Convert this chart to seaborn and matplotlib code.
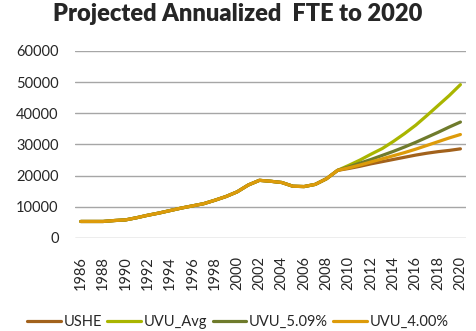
import matplotlib
matplotlib.use("Agg")
import matplotlib.pyplot as plt
import seaborn as sns
import pandas as pd

# Annual FTE, actuals through 2009 then projections per scenario
years = list(range(1986, 2021))
history = [5300, 5300, 5300, 5600, 5800, 6500, 7300, 8000, 8800, 9600,
           10300, 11000, 12100, 13300, 14800, 17000, 18500, 18200, 17800, 16600,
           16500, 17200, 19000, 21700]
ushe_proj = [22300, 23000, 23800, 24500, 25200, 25900, 26600, 27200, 27700, 28100, 28600]
avg_proj = [23300, 25000, 26900, 28700, 31000, 33500, 36200, 39300, 42500, 45700, 49200]
r509_proj = [22800, 24000, 25200, 26500, 27800, 29200, 30700, 32300, 33900, 35600, 37200]
r400_proj = [22500, 23400, 24400, 25400, 26400, 27400, 28500, 29700, 30900, 32100, 33200]

series_names = ["USHE", "UVU_Avg", "UVU_5.09%", "UVU_4.00%"]
series_proj = [ushe_proj, avg_proj, r509_proj, r400_proj]
colors = ["#A2621C", "#A9B500", "#6F7B2C", "#DD9B0A"]

rows = []
for name, proj in zip(series_names, series_proj):
    for i, (yr, v) in enumerate(zip(years, history + proj)):
        rows.append({"idx": i, "year": yr, "FTE": v, "series": name})
df = pd.DataFrame(rows)

sns.set_style("white")
plt.rcParams["font.family"] = ["Lato", "DejaVu Sans"]

fig = plt.figure(figsize=(4.76, 3.31), dpi=100)
ax = fig.add_axes([0.158, 0.281, 0.821, 0.565])

sns.lineplot(data=df, x="idx", y="FTE", hue="series", hue_order=series_names,
             palette=colors, linewidth=2.3, ax=ax, legend=True)

ax.set_xlim(-0.5, len(years) - 0.5)
ax.set_ylim(0, 60000)
ax.set_yticks(range(0, 60001, 10000))
ax.set_yticklabels([str(v) for v in range(0, 60001, 10000)], fontsize=10.5)
tick_idx = list(range(0, len(years), 2))
ax.set_xticks(tick_idx)
ax.set_xticklabels([str(years[i]) for i in tick_idx], rotation=90, fontsize=10.5)
ax.tick_params(axis="y", length=0, pad=12)
ax.tick_params(axis="x", length=0, pad=13)
ax.yaxis.grid(True, color="#A6A6A6", linewidth=1)
ax.set_axisbelow(True)
for s in ax.spines.values():
    s.set_visible(False)
ax.set_xlabel("")
ax.set_ylabel("")

fig.suptitle("Projected Annualized  FTE to 2020", x=0.5, y=0.99,
             fontsize=17, fontweight="heavy")

handles, labels = ax.get_legend_handles_labels()
ax.legend_.remove()
fig.legend(handles, labels, loc="center", bbox_to_anchor=(0.5, 0.027), ncol=4,
           frameon=False, fontsize=10.5, handlelength=2.3, handletextpad=0.2,
           columnspacing=0.35)

fig.savefig("out.png", dpi=100)
